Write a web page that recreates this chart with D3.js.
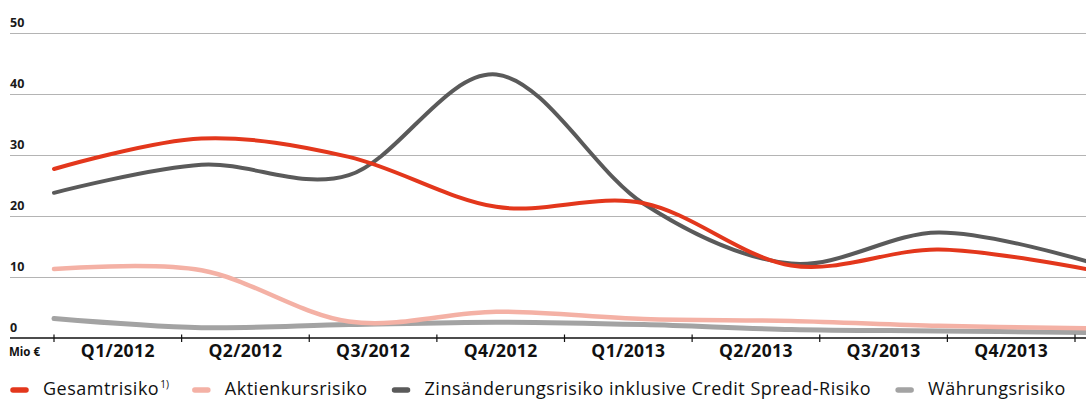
<!DOCTYPE html>
<html>
<head>
<meta charset="utf-8">
<script src="https://cdn.jsdelivr.net/npm/d3@7"></script>
<style>
  html, body { margin: 0; padding: 0; background: #fff; }
  svg { display: block; font-family: "Open Sans", "Noto Sans", sans-serif; }
</style>
</head>
<body>
<svg id="chart" width="1086" height="399"></svg>
<script>
// Quarters on the x axis
const quarters = ["Q1/2012", "Q2/2012", "Q3/2012", "Q4/2012", "Q1/2013", "Q2/2013", "Q3/2013", "Q4/2013"];
// Risk figures in Mio €
const gesamtrisiko = [27.7, 32.7, 29.7, 21.5, 22.1, 11.9, 14.5, 11.3];
const aktienkursrisiko = [11.3, 11.1, 2.7, 4.3, 3.1, 2.8, 2.0, 1.6];
const zinsaenderungsrisiko = [23.8, 28.4, 26.7, 43.2, 22.0, 12.2, 17.3, 12.6];
const waehrungsrisiko = [3.2, 1.7, 2.2, 2.6, 2.2, 1.4, 1.15, 0.9];
const yTicks = [0, 10, 20, 30, 40, 50];
const seriesNames = ["Gesamtrisiko", "Aktienkursrisiko", "Zinsänderungsrisiko inklusive Credit Spread-Risiko", "Währungsrisiko"];

const svg = d3.select("#chart");
const W = 1086;

const y = d3.scaleLinear().domain([0, 50]).range([338, 33]);
const xPts = d3.scalePoint().domain(quarters).range([54, 1086]);
const xBand = d3.scaleBand().domain(quarters).range([54, 1075]);

// horizontal gridlines
const grid = svg.append("g");
grid.selectAll("line").data(yTicks.filter(d => d > 0)).join("line")
  .attr("x1", 10).attr("x2", W)
  .attr("y1", d => y(d) + 0.5).attr("y2", d => y(d) + 0.5)
  .attr("stroke", "#b4b4b4").attr("stroke-width", 1);

// y labels
svg.append("g").selectAll("text").data(yTicks).join("text")
  .attr("x", 10).attr("y", d => y(d) - 6)
  .attr("font-size", 12.5).attr("font-weight", 700).attr("fill", "#1a1a1a")
  .text(d => d);

// series lines (smoothed)
const series = [
  { name: seriesNames[3], values: waehrungsrisiko, color: "#a3a3a3", width: 5 },
  { name: seriesNames[1], values: aktienkursrisiko, color: "#f4b1a5", width: 4.5 },
  { name: seriesNames[2], values: zinsaenderungsrisiko, color: "#5a5a5a", width: 4 },
  { name: seriesNames[0], values: gesamtrisiko, color: "#e3371c", width: 4 }
];
const line = d3.line()
  .x((d, i) => xPts(quarters[i]))
  .y(d => y(d))
  .curve(d3.curveCatmullRom.alpha(0));

svg.append("g").selectAll("path").data(series).join("path")
  .attr("d", s => line(s.values))
  .attr("fill", "none")
  .attr("stroke", s => s.color)
  .attr("stroke-width", s => s.width)
  .attr("stroke-linecap", "round");

// x axis
const gx = svg.append("g").attr("transform", `translate(0, ${y(0)})`);
gx.append("line").attr("x1", 10).attr("x2", W).attr("y1", 0).attr("y2", 0)
  .attr("stroke", "#111").attr("stroke-width", 1.5);
const boundaries = quarters.map(q => xBand(q)).concat([xBand.range()[1]]);
gx.selectAll("line.tick").data(boundaries).join("line")
  .attr("class", "tick")
  .attr("x1", d => d).attr("x2", d => d)
  .attr("y1", -3.5).attr("y2", 4)
  .attr("stroke", "#111").attr("stroke-width", 1.2);
gx.selectAll("text.q").data(quarters).join("text")
  .attr("class", "q")
  .attr("x", d => xBand(d) + xBand.bandwidth() / 2)
  .attr("y", 19)
  .attr("text-anchor", "middle")
  .attr("font-size", 17.5).attr("font-weight", 700).attr("fill", "#111")
  .attr("letter-spacing", 0.4)
  .text(d => d);
gx.append("text").attr("x", 9).attr("y", 18)
  .attr("font-size", 11.5).attr("font-weight", 700).attr("fill", "#111")
  .text("Mio €");

// legend
const legendColors = ["#e3371c", "#f4b1a5", "#5a5a5a", "#a3a3a3"];
const lg = svg.append("g").attr("transform", "translate(0, 390)");
let lx = 10;
seriesNames.forEach((name, i) => {
  lg.append("line").attr("x1", lx + 3).attr("x2", lx + 16).attr("y1", 0).attr("y2", 0)
    .attr("stroke", legendColors[i]).attr("stroke-width", 5.5).attr("stroke-linecap", "round");
  const t = lg.append("text").attr("x", lx + 33).attr("y", 4.5)
    .attr("font-size", 18).attr("letter-spacing", 0.5).attr("fill", "#111").text(name);
  if (i === 0) {
    t.append("tspan").attr("font-size", 10).attr("dy", -7).attr("dx", 1).attr("letter-spacing", 0).text("1)");
  }
  lx += 33 + t.node().getComputedTextLength() + 24;
});
</script>
</body>
</html>
